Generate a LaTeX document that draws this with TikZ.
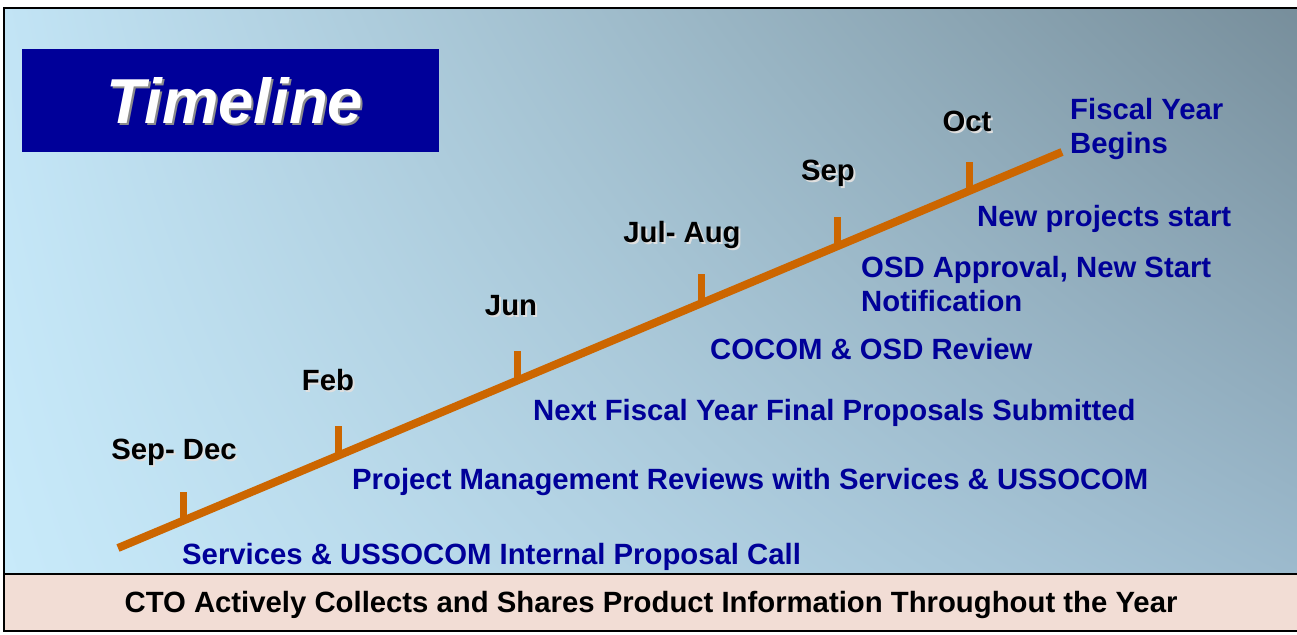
\documentclass[tikz,border=0pt]{standalone}
\usepackage{fontspec}
\setmainfont{Liberation Sans}
\usepackage{tikz}
\usetikzlibrary{shadings}
\definecolor{navy}{HTML}{000099}
\definecolor{rust}{HTML}{CC6600}
\definecolor{blush}{HTML}{F2DDD5}
\definecolor{skyUL}{HTML}{C2E4F5}
\definecolor{skyUR}{HTML}{778E9B}
\definecolor{skyLL}{HTML}{C8EAFA}
\definecolor{skyLR}{HTML}{9CBACD}
\newcommand{\shtext}[3]{\makebox[0pt][l]{\hspace*{#3}\raisebox{-#3}{\textcolor{#1}{#2}}}#2}

\begin{document}
\begin{tikzpicture}[x=1pt,y=1pt,
  month/.style={font=\fontsize{29.3}{34}\selectfont\bfseries, text=black, inner sep=0pt},
  event/.style={font=\fontsize{29.3}{34.5}\selectfont\bfseries, text=navy, anchor=west, align=left, inner sep=0pt},
  tick/.style={draw=rust, line width=7pt}]
\useasboundingbox (0,0) rectangle (1297,634);

\shade[upper left=skyUL, upper right=skyUR, lower left=skyLL, lower right=skyLR]
  (4,60) rectangle (1300,626);
\fill[blush] (4,3) rectangle (1300,60);
\draw[line width=2.5pt] (4,3) rectangle (1302,626);
\draw[line width=2.5pt] (4,60) -- (1302,60);

\node[draw=none, fill=navy, minimum width=417pt, minimum height=103pt, inner sep=0pt] (title) at (230.5,533.5){};
\node[font=\fontsize{63.5}{70}\selectfont\bfseries\itshape, text=white, inner sep=0pt] (titletext) at (235,532){\shtext{black!45}{Timeline}{2pt}};

\coordinate (tlstart) at (118,86);
\coordinate (tlend) at (1062,482);
\draw[rust, line width=8pt] (tlstart) -- (tlend);
\path (tlstart) -- (tlend)
  coordinate[pos=0.0689] (t1) coordinate[pos=0.234] (t2) coordinate[pos=0.4237] (t3)
  coordinate[pos=0.6176] (t4) coordinate[pos=0.7627] (t5) coordinate[pos=0.9025] (t6);
\foreach \t in {t1,t2,t3,t4,t5,t6}
  \draw[tick] (\t) -- ++(0,29);

\node[month] (sepdec) at (174,181){\shtext{white!75!gray}{Sep- Dec}{2pt}};
\node[month] (feb) at (328,253){\shtext{white!75!gray}{Feb}{2pt}};
\node[month] (jun) at (511,327){\shtext{white!75!gray}{Jun}{2pt}};
\node[month] (julaug) at (682,398){\shtext{white!75!gray}{Jul- Aug}{2pt}};
\node[month] (sep) at (828,460){\shtext{white!75!gray}{Sep}{2pt}};
\node[month] (oct) at (967,512){\shtext{white!75!gray}{Oct}{2pt}};

\node[event] (call) at (182,77){Services \& USSOCOM Internal Proposal Call};
\node[event] (reviews) at (352,152){Project Management Reviews with Services \& USSOCOM};
\node[event] (final) at (533,221){Next Fiscal Year Final Proposals Submitted};
\node[event] (cocom) at (710,285){COCOM \& OSD Review};
\node[event] (osd) at (861,350){OSD Approval, New Start\\Notification};
\node[event] (newproj) at (977,415){New projects start};
\node[event] (fiscal) at (1070,505){Fiscal Year\\Begins};

\node[font=\fontsize{29.3}{34}\selectfont\bfseries, inner sep=0pt] (cto) at (651,29){CTO Actively Collects and Shares Product Information Throughout the Year};
\end{tikzpicture}
\end{document}
